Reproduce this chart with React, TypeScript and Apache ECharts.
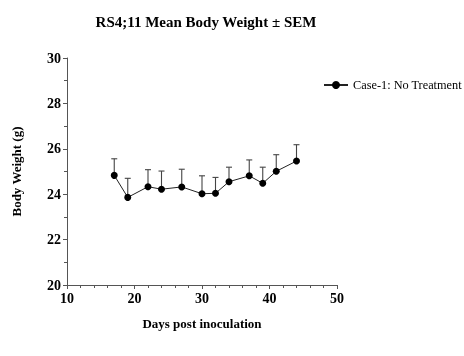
import React, { useEffect, useRef } from "react";
import * as echarts from "echarts";

const days = [17, 19, 22, 24, 27, 30, 32, 34, 37, 39, 41, 44];
const means = [24.83, 23.86, 24.33, 24.22, 24.32, 24.02, 24.04, 24.55, 24.81, 24.48, 25.01, 25.46];
const sems = [0.73, 0.84, 0.75, 0.8, 0.78, 0.79, 0.7, 0.64, 0.7, 0.71, 0.73, 0.72];
const seriesName = "Case-1: No Treatment";
const titleText = "RS4;11 Mean Body Weight \u00b1 SEM";
const xName = "Days post inoculation";
const yName = "Body Weight (g)";

const FONT = "'Liberation Serif', 'Times New Roman', serif";

export default function App() {
  const ref = useRef<HTMLDivElement>(null);
  useEffect(() => {
    if (!ref.current) return;
    const chart = echarts.init(ref.current, null, { renderer: "svg" });
    const lineData = days.map((d, i) => [d, means[i]]);
    const errData = days.map((d, i) => [d, means[i], means[i] + sems[i]]);
    const axisCommon = {
      axisLine: { show: true, lineStyle: { color: "#555", width: 1 } },
      axisTick: { show: true, length: 4, lineStyle: { color: "#555" } },
      minorTick: { show: true, length: 3, lineStyle: { color: "#555" } },
      splitLine: { show: false },
      axisLabel: { color: "#000", fontFamily: FONT, fontWeight: "bold", fontSize: 14 },
      nameTextStyle: { color: "#000", fontFamily: FONT, fontWeight: "bold", fontSize: 13 },
    };
    chart.setOption({
      animation: false,
      title: {
        text: titleText,
        left: 201,
        top: 9,
        textAlign: "center",
        textStyle: { fontFamily: FONT, fontWeight: "bold", fontSize: 15, color: "#000" },
      },
      legend: {
        data: [seriesName],
        left: 318,
        top: 74,
        itemWidth: 24,
        itemHeight: 10,
        itemGap: 4,
        textStyle: { fontFamily: FONT, fontSize: 12.3, color: "#000" },
      },
      grid: { left: 67, right: 127, top: 58, bottom: 71 },
      xAxis: {
        type: "value",
        min: 10,
        max: 50,
        interval: 10,
        name: xName,
        nameLocation: "middle",
        nameGap: 32,
        ...axisCommon,
        minorTick: { ...axisCommon.minorTick, splitNumber: 5 },
        axisLabel: { ...axisCommon.axisLabel, margin: 6 },
      },
      yAxis: {
        type: "value",
        min: 20,
        max: 30,
        interval: 2,
        name: yName,
        nameLocation: "middle",
        nameGap: 44,
        ...axisCommon,
        minorTick: { ...axisCommon.minorTick, splitNumber: 2 },
        axisLabel: { ...axisCommon.axisLabel, margin: 6 },
      },
      series: [
        {
          type: "custom",
          name: "err",
          data: errData,
          z: 1,
          renderItem: (params: any, api: any) => {
            const x = api.value(0);
            const p0 = api.coord([x, api.value(1)]);
            const p1 = api.coord([x, api.value(2)]);
            const cap = 3;
            return {
              type: "group",
              children: [
                {
                  type: "line",
                  shape: { x1: p0[0], y1: p0[1], x2: p1[0], y2: p1[1] },
                  style: { stroke: "#444", lineWidth: 1.1 },
                },
                {
                  type: "line",
                  shape: { x1: p1[0] - cap, y1: p1[1], x2: p1[0] + cap, y2: p1[1] },
                  style: { stroke: "#444", lineWidth: 1.1 },
                },
              ],
            };
          },
        },
        {
          type: "line",
          name: seriesName,
          data: lineData,
          z: 3,
          symbol: "circle",
          symbolSize: 7,
          itemStyle: { color: "#000" },
          lineStyle: { color: "#222", width: 1 },
        },
      ],
    });
    return () => chart.dispose();
  }, []);
  return (
    <div
      ref={ref}
      style={{ position: "fixed", left: 0, top: 0, width: 464, height: 356 }}
    />
  );
}
